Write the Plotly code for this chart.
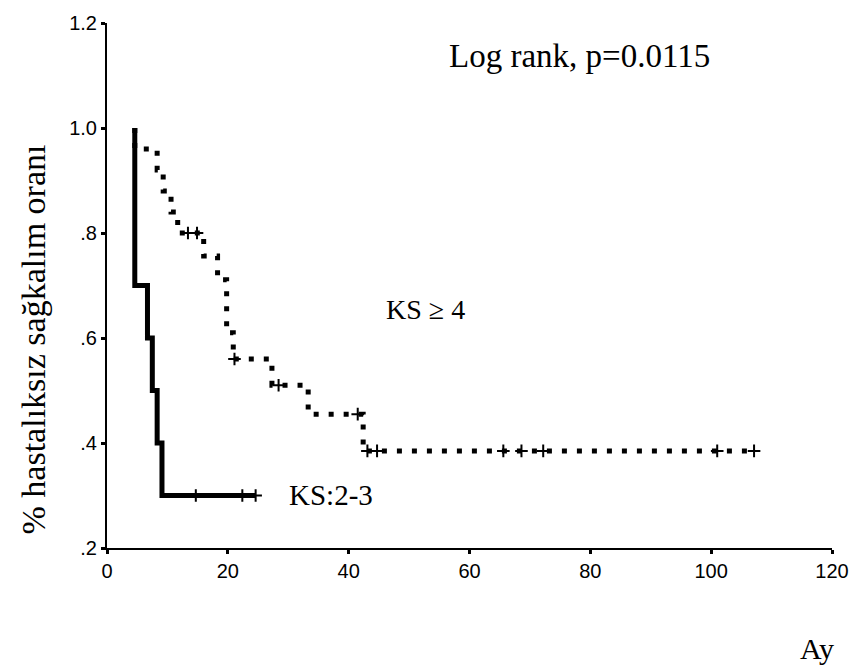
import plotly.graph_objects as go

# KS:2-3 group (solid)
ks23_time = [4.6, 4.6, 6.7, 7.5, 8.3, 9.1, 24.6]
ks23_surv = [1.0, 0.70, 0.60, 0.50, 0.40, 0.30, 0.30]
ks23_cens_time = [14.7, 22.4, 24.6]
ks23_cens_surv = [0.30, 0.30, 0.30]

# KS >= 4 group (dotted)
ks4_time = [4.6, 4.6, 8.3, 9.3, 10.6, 11.7, 16.0, 18.3, 19.8, 20.9, 27.3, 33.3, 42.4, 107.1]
ks4_surv = [1.0, 0.96, 0.92, 0.88, 0.84, 0.80, 0.756, 0.711, 0.61, 0.56, 0.51, 0.455, 0.385, 0.385]
ks4_cens_time = [13.4, 14.9, 21.1, 28.4, 41.5, 43.1, 44.7, 65.6, 68.6, 72.2, 101.0, 107.1]
ks4_cens_surv = [0.80, 0.80, 0.56, 0.51, 0.455, 0.385, 0.385, 0.385, 0.385, 0.385, 0.385, 0.385]

x_ticks = [0, 20, 40, 60, 80, 100, 120]
y_ticks = [0.2, 0.4, 0.6, 0.8, 1.0, 1.2]
y_tick_text = [".2", ".4", ".6", ".8", "1.0", "1.2"]

serif = "Liberation Serif, Times New Roman, serif"
sans = "Liberation Sans, Arial, sans-serif"

fig = go.Figure()
fig.add_trace(go.Scatter(x=ks4_time, y=ks4_surv, mode="lines", line_shape="hv",
                         line=dict(color="black", width=5, dash="5px,10px"),
                         showlegend=False, hoverinfo="skip"))
fig.add_trace(go.Scatter(x=ks4_cens_time, y=ks4_cens_surv, mode="markers",
                         marker=dict(symbol="cross-thin", size=9, line=dict(color="black", width=2)),
                         showlegend=False, hoverinfo="skip"))
fig.add_trace(go.Scatter(x=ks23_time, y=ks23_surv, mode="lines", line_shape="hv",
                         line=dict(color="black", width=5),
                         showlegend=False, hoverinfo="skip"))
fig.add_trace(go.Scatter(x=ks23_cens_time, y=ks23_cens_surv, mode="markers",
                         marker=dict(symbol="cross-thin", size=9, line=dict(color="black", width=2)),
                         showlegend=False, hoverinfo="skip"))

fig.update_layout(
    width=861, height=668,
    margin=dict(l=107, r=20, t=14, b=120),
    paper_bgcolor="white", plot_bgcolor="white",
    xaxis=dict(range=[0, 120], tickvals=x_ticks, showgrid=False, zeroline=False,
               showline=True, linecolor="black", linewidth=2,
               ticks="outside", ticklen=4, tickwidth=3, tickcolor="black",
               tickfont=dict(family=sans, size=20, color="black")),
    yaxis=dict(range=[0.2, 1.2], tickvals=y_ticks, ticktext=y_tick_text, showgrid=False,
               zeroline=False, showline=True, linecolor="black", linewidth=2,
               ticks="outside", ticklen=4, tickwidth=3, tickcolor="black",
               tickfont=dict(family=sans, size=20, color="black")),
    annotations=[
        dict(text="Log rank, p=0.0115", xref="paper", yref="paper", x=(585 - 107) / 734, y=(548 - 48) / 534,
             showarrow=False, font=dict(family=serif, size=33, color="black"), xanchor="center", yanchor="middle"),
        dict(text="KS ≥ 4", xref="paper", yref="paper", x=(429 - 107) / 734, y=(548 - 305) / 534,
             showarrow=False, font=dict(family=serif, size=28, color="black"), xanchor="center", yanchor="middle"),
        dict(text="KS:2-3", xref="paper", yref="paper", x=(334 - 107) / 734, y=(548 - 494) / 534,
             showarrow=False, font=dict(family=serif, size=29, color="black"), xanchor="center", yanchor="middle"),
        dict(text="Ay", xref="paper", yref="paper", x=(826 - 107) / 734, y=(548 - 650) / 534,
             showarrow=False, font=dict(family=serif, size=30, color="black"), xanchor="center", yanchor="middle"),
        dict(text="% hastalıksız sağkalım oranı", xref="paper", yref="paper", x=(33 - 107) / 734,
             y=(548 - 336) / 534, textangle=-90,
             showarrow=False, font=dict(family=serif, size=34, color="black"), xanchor="center", yanchor="middle"),
    ],
)

fig.write_html("out.html")
